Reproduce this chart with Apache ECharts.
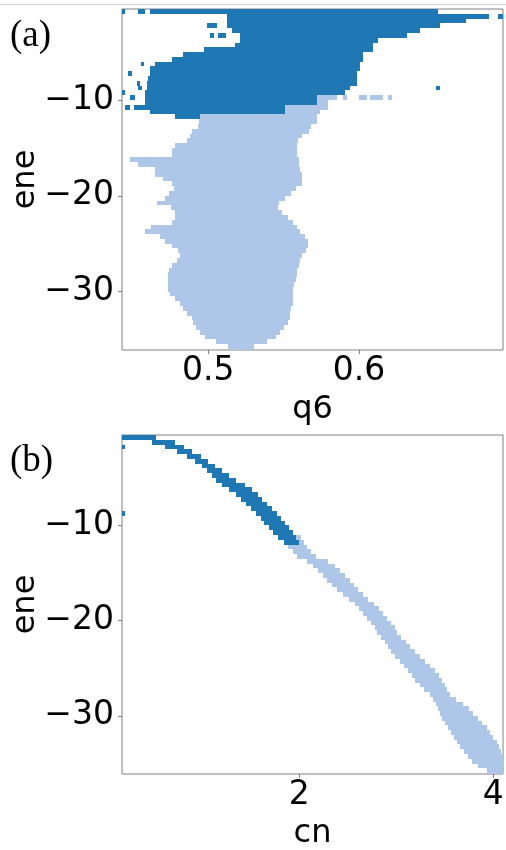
<!DOCTYPE html>
<html>
<head>
<meta charset="utf-8">
<script src="https://cdn.jsdelivr.net/npm/echarts@6/dist/echarts.min.js"></script>
<style>
  html, body { margin: 0; padding: 0; background: #fff; }
  #chart { width: 506px; height: 850px; }
</style>
</head>
<body>
<div id="chart"></div>
<script>
// each row: [ene at top of row, left edge, right edge]; rows are ROW units tall
var ROW = 0.5;

// panel (a): ene vs q6
var aDark = [
  [-0.5, 0.4427, 0.4450], [-0.5, 0.4530, 0.4580], [-0.5, 0.4610, 0.6525],
  [-1.0, 0.5124, 0.6863], [-1.0, 0.6920, 0.6956],
  [-1.5, 0.5124, 0.6711],
  [-2.0, 0.4988, 0.5060], [-2.0, 0.5124, 0.6538],
  [-2.5, 0.5157, 0.6405],
  [-3.0, 0.5010, 0.5035], [-3.0, 0.5065, 0.5118], [-3.0, 0.5210, 0.6320],
  [-3.5, 0.5210, 0.6126],
  [-4.0, 0.5180, 0.6093],
  [-4.5, 0.4970, 0.6093],
  [-5.0, 0.4830, 0.6027],
  [-5.5, 0.4760, 0.6027],
  [-6.0, 0.4553, 0.4573], [-6.0, 0.4646, 0.6007],
  [-6.5, 0.4613, 0.6007],
  [-7.0, 0.4466, 0.4493], [-7.0, 0.4613, 0.5987],
  [-7.5, 0.4600, 0.5987],
  [-8.0, 0.4527, 0.4547], [-8.0, 0.4590, 0.5987],
  [-8.5, 0.4533, 0.4560], [-8.5, 0.4590, 0.5940], [-8.5, 0.6510, 0.6535],
  [-9.0, 0.4427, 0.4447], [-9.0, 0.4580, 0.5907],
  [-9.5, 0.4480, 0.4513], [-9.5, 0.4580, 0.5720],
  [-10.0, 0.4580, 0.5721],
  [-10.5, 0.4447, 0.4480], [-10.5, 0.4507, 0.5510],
  [-11.0, 0.4613, 0.5510],
  [-11.5, 0.4780, 0.4945]
];
var aLight = [
  [-9.5, 0.5720, 0.5854], [-9.5, 0.5895, 0.5920], [-9.5, 0.6000, 0.6050],
  [-9.5, 0.6070, 0.6160], [-9.5, 0.6190, 0.6220],
  [-10.0, 0.5721, 0.5794],
  [-10.5, 0.5510, 0.5794],
  [-11.0, 0.5510, 0.5740],
  [-11.5, 0.4945, 0.5720],
  [-12.0, 0.4935, 0.5720], [-12.5, 0.4930, 0.5680], [-13.0, 0.4890, 0.5670],
  [-13.5, 0.4880, 0.5620], [-14.0, 0.4860, 0.5595], [-14.5, 0.4780, 0.5588],
  [-15.0, 0.4760, 0.5588], [-15.5, 0.4760, 0.5588], [-16.0, 0.4480, 0.5600],
  [-16.5, 0.4530, 0.5600], [-17.0, 0.4646, 0.5610], [-17.5, 0.4646, 0.5620],
  [-18.0, 0.4700, 0.5620], [-18.5, 0.4760, 0.5620], [-19.0, 0.4770, 0.5580],
  [-19.5, 0.4740, 0.5550], [-20.0, 0.4710, 0.5510], [-20.5, 0.4660, 0.5470],
  [-21.0, 0.4750, 0.5460], [-21.5, 0.4780, 0.5490], [-22.0, 0.4780, 0.5530],
  [-22.5, 0.4760, 0.5560], [-23.0, 0.4620, 0.5590], [-23.5, 0.4580, 0.5610],
  [-24.0, 0.4680, 0.5640], [-24.5, 0.4710, 0.5660], [-25.0, 0.4760, 0.5660],
  [-25.5, 0.4800, 0.5650], [-26.0, 0.4810, 0.5620], [-26.5, 0.4790, 0.5610],
  [-27.0, 0.4760, 0.5600], [-27.5, 0.4740, 0.5590], [-28.0, 0.4733, 0.5590],
  [-28.5, 0.4733, 0.5580], [-29.0, 0.4733, 0.5570], [-29.5, 0.4733, 0.5560],
  [-30.0, 0.4746, 0.5560], [-30.5, 0.4780, 0.5560], [-31.0, 0.4810, 0.5560],
  [-31.5, 0.4830, 0.5550], [-32.0, 0.4860, 0.5540], [-32.5, 0.4890, 0.5540],
  [-33.0, 0.4900, 0.5530], [-33.5, 0.4920, 0.5500], [-34.0, 0.4945, 0.5476],
  [-34.5, 0.4980, 0.5450], [-35.0, 0.5050, 0.5390], [-35.5, 0.5130, 0.5300],
  [-36.0, 0.5150, 0.5280]
];

// panel (b): ene vs cn
var bDark = [
  [-0.5, 0.172, 0.52], [-1.0, 0.48, 0.72], [-1.5, 0.172, 0.20], [-1.5, 0.62, 0.81],
  [-2.0, 0.74, 0.89], [-2.5, 0.84, 0.99], [-3.0, 0.92, 1.06], [-3.5, 1.00, 1.13],
  [-4.0, 1.05, 1.20], [-4.5, 1.10, 1.27], [-5.0, 1.14, 1.35], [-5.5, 1.20, 1.44],
  [-6.0, 1.28, 1.51], [-6.5, 1.35, 1.57], [-7.0, 1.40, 1.62], [-7.5, 1.45, 1.67],
  [-8.0, 1.50, 1.72], [-8.5, 0.172, 0.20], [-8.5, 1.55, 1.77], [-9.0, 1.60, 1.81],
  [-9.5, 1.64, 1.85], [-10.0, 1.69, 1.89], [-10.5, 1.73, 1.93], [-11.0, 1.78, 1.97],
  [-11.5, 1.84, 2.00]
];
var bLight = [
  [-11.0, 1.97, 2.02], [-11.5, 2.00, 2.05],
  [-12.0, 1.88, 2.08], [-12.5, 1.93, 2.12], [-13.0, 1.98, 2.17], [-13.5, 2.08, 2.30],
  [-14.0, 2.14, 2.37], [-14.5, 2.19, 2.42], [-15.0, 2.24, 2.47], [-15.5, 2.29, 2.52],
  [-16.0, 2.34, 2.56], [-16.5, 2.39, 2.60], [-17.0, 2.45, 2.66], [-17.5, 2.51, 2.71],
  [-18.0, 2.57, 2.77], [-18.5, 2.62, 2.82], [-19.0, 2.66, 2.86], [-19.5, 2.70, 2.90],
  [-20.0, 2.74, 2.95], [-20.5, 2.78, 2.99], [-21.0, 2.80, 3.01], [-21.5, 2.84, 3.05],
  [-22.0, 2.88, 3.10], [-22.5, 2.91, 3.14], [-23.0, 2.95, 3.19], [-23.5, 2.99, 3.24],
  [-24.0, 3.04, 3.30], [-24.5, 3.08, 3.35], [-25.0, 3.12, 3.40], [-25.5, 3.16, 3.44],
  [-26.0, 3.19, 3.47], [-26.5, 3.24, 3.50], [-27.0, 3.29, 3.52], [-27.5, 3.35, 3.55],
  [-28.0, 3.38, 3.62], [-28.5, 3.41, 3.69], [-29.0, 3.43, 3.75], [-29.5, 3.45, 3.79],
  [-30.0, 3.47, 3.84], [-30.5, 3.50, 3.88], [-31.0, 3.53, 3.94], [-31.5, 3.56, 3.97],
  [-32.0, 3.59, 4.00], [-32.5, 3.63, 4.04], [-33.0, 3.66, 4.06], [-33.5, 3.70, 4.08],
  [-34.0, 3.74, 4.10], [-34.5, 3.78, 4.10], [-35.0, 3.84, 4.10], [-35.5, 3.93, 4.10],
  [-36.0, 3.97, 4.10]
];

var eneTicks = [-10, -20, -30];
var q6Ticks = [0.5, 0.6];
var cnTicks = [2, 4];

var DARK = '#1f77b4', LIGHT = '#aec7e8', SPINE = '#808080';
var FONT = 'DejaVu Sans';

function renderRow(params, api) {
  var e = api.value(0), lo = api.value(1), hi = api.value(2);
  var p0 = api.coord([lo, e]);
  var p1 = api.coord([hi, e - ROW]);
  var x0 = Math.round(p0[0]), y0 = Math.round(p0[1]);
  var x1 = Math.round(p1[0]), y1 = Math.round(p1[1]);
  var cs = params.coordSys;
  var shape = echarts.graphic.clipRectByRect(
    { x: x0, y: y0, width: Math.max(x1 - x0, 1), height: y1 - y0 },
    { x: cs.x, y: cs.y, width: cs.width, height: cs.height }
  );
  if (!shape) return;
  return { type: 'rect', shape: shape, style: { fill: api.visual('color') } };
}

function rows(data, color, idx) {
  return {
    type: 'custom', xAxisIndex: idx, yAxisIndex: idx,
    renderItem: renderRow, data: data, color: color,
    dimensions: ['ene', 'lo', 'hi'],
    encode: { x: [1, 2], y: 0 }, silent: true
  };
}

var minus = function (v) { return v < 0 ? '\u2212' + Math.abs(v) : String(v); };
var tickStyle = { show: true, length: 4, lineStyle: { color: SPINE } };
var labelStyle = { fontFamily: FONT, fontSize: 33, color: '#000' };

function yAxis(idx) {
  return {
    type: 'value', gridIndex: idx, min: -36.1, max: -0.5,
    name: 'ene', nameLocation: 'middle', nameGap: 80, nameMoveOverlap: false,
    nameTextStyle: { fontFamily: FONT, fontSize: 32, color: '#000' },
    axisLine: { show: false }, splitLine: { show: false },
    axisTick: Object.assign({ customValues: eneTicks }, tickStyle),
    axisLabel: Object.assign({ customValues: eneTicks, margin: 8, formatter: minus }, labelStyle)
  };
}

function xAxis(idx, name, min, max, ticks, fmt) {
  return {
    type: 'value', gridIndex: idx, min: min, max: max,
    name: name, nameLocation: 'middle', nameGap: 44,
    nameTextStyle: { fontFamily: FONT, fontSize: 32, color: '#000' },
    axisLine: { show: false }, splitLine: { show: false },
    axisTick: Object.assign({ customValues: ticks }, tickStyle),
    axisLabel: Object.assign({ customValues: ticks, margin: 5, formatter: fmt }, labelStyle)
  };
}

var gridBase = { left: 122, width: 381, show: true, borderColor: SPINE, borderWidth: 1,
  backgroundColor: 'transparent', containLabel: false, outerBoundsMode: 'none' };

var chart = echarts.init(document.getElementById('chart'));
chart.setOption({
  animation: false,
  backgroundColor: '#fff',
  grid: [
    Object.assign({ top: 9, height: 341 }, gridBase),
    Object.assign({ top: 435, height: 339 }, gridBase)
  ],
  xAxis: [
    xAxis(0, 'q6', 0.4427, 0.6956, q6Ticks, function (v) { return v.toFixed(1); }),
    xAxis(1, 'cn', 0.172, 4.1, cnTicks, function (v) { return String(v); })
  ],
  yAxis: [yAxis(0), yAxis(1)],
  graphic: [
    { type: 'rect', shape: { x: 0, y: 4, width: 506, height: 1 }, style: { fill: '#cccccc' } },
    { type: 'text', left: 10, top: 18, style: { text: '(a)', font: '37px "Liberation Serif"', fill: '#000' } },
    { type: 'text', left: 10, top: 443, style: { text: '(b)', font: '37px "Liberation Serif"', fill: '#000' } }
  ],
  series: [
    rows(aLight, LIGHT, 0), rows(aDark, DARK, 0),
    rows(bLight, LIGHT, 1), rows(bDark, DARK, 1)
  ]
});
</script>
</body>
</html>
